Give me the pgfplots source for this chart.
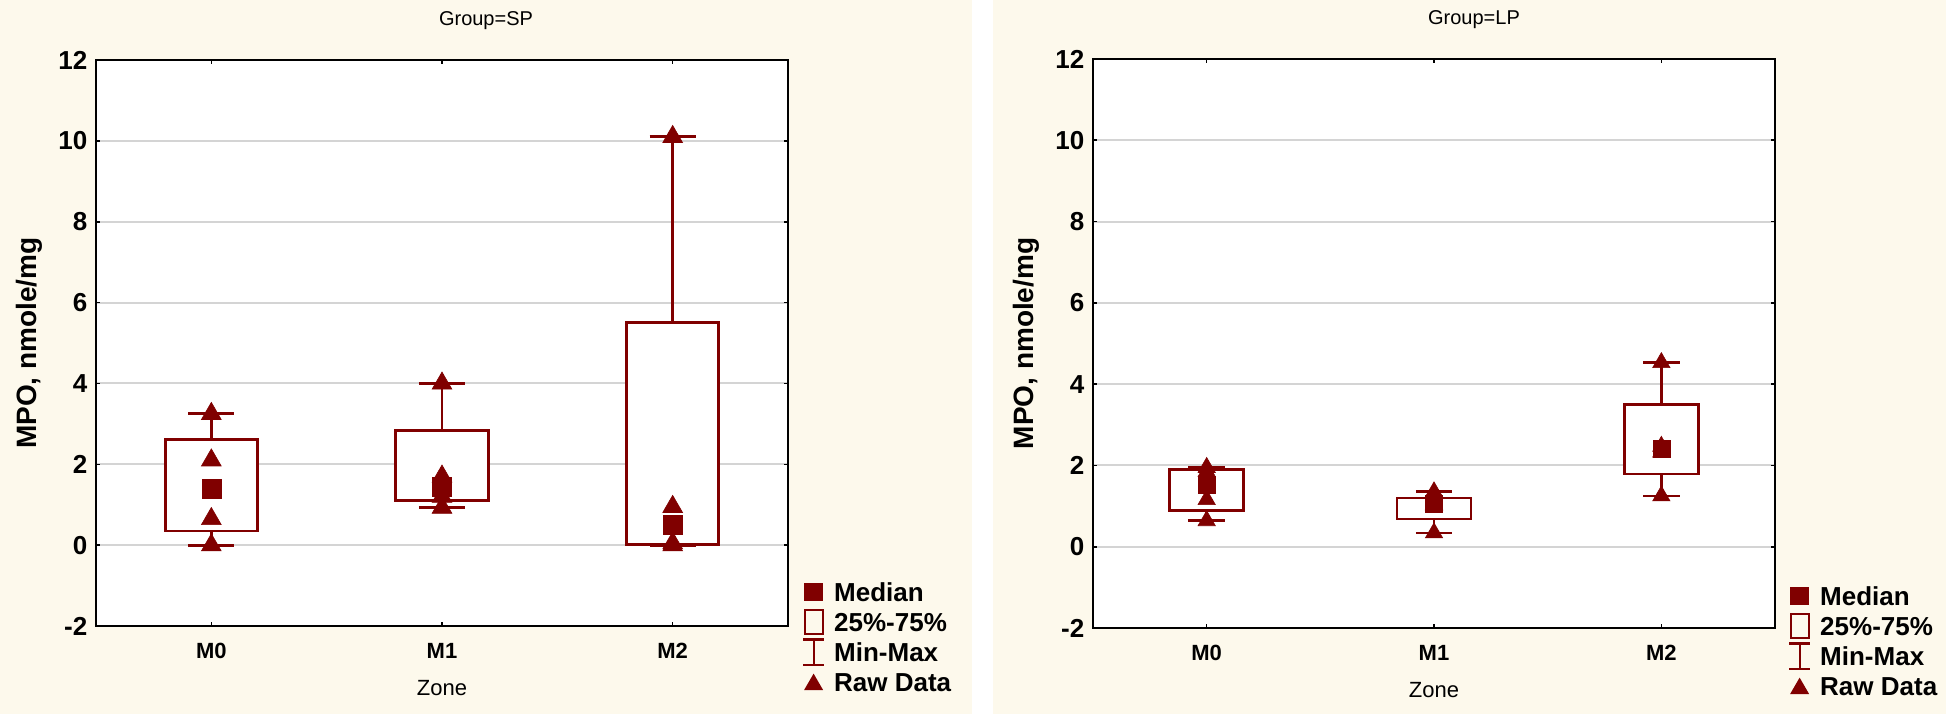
\documentclass[border=0pt]{standalone}
\usepackage{fontspec}
\setmainfont{Liberation Sans}
\usepackage{pgfplots}
\pgfplotsset{compat=1.18}
\usepgfplotslibrary{statistics}
\definecolor{dred}{RGB}{128,0,0}
\definecolor{cream}{RGB}{253,249,236}
\definecolor{gridgray}{RGB}{212,212,212}
\pgfplotsset{
  panel/.style={
    scale only axis,
    anchor=south west,
    axis background/.style={fill=white},
    axis line style={black, line width=1.2pt},
    xmin=-0.5, xmax=2.5, ymin=-2, ymax=12,
    xtick={0,1,2}, xticklabels={M0,M1,M2},
    ytick={-2,0,2,4,6,8,10,12},
    yticklabels={-2,0,2,4,6,8,10,12},
    tick align=inside, tick pos=both,
    major tick length=2pt,
    tick style={black, line width=0.8pt},
    ymajorgrids, major grid style={gridgray, line width=1pt},
    xticklabel style={font=\fontsize{11}{13}\selectfont\bfseries, yshift=-5pt},
    yticklabel style={font=\fontsize{13}{15}\selectfont\bfseries, xshift=-0.8pt},
    every axis y label/.style={at={(axis description cs:0,0.5)}, xshift=-33.5pt, rotate=90, anchor=center, font=\fontsize{14}{16}\selectfont\bfseries},
    every axis x label/.style={at={(axis description cs:0.5,0)}, yshift=-31pt, anchor=center, font=\fontsize{11}{13}\selectfont},
    ylabel={MPO, nmole/mg},
    xlabel={Zone},
    boxplot/draw direction=y,
    boxplot/draw/median/.code={},
    legend cell align=left,
    legend style={draw=none, fill=none, inner sep=0pt, outer sep=0pt,
      at={(axis description cs:1,0)}, anchor=north west,
      row sep=0pt,
      font=\fontsize{13}{15}\selectfont\bfseries,
      nodes={inner xsep=4.5pt, inner ysep=0pt, text height=9pt, text depth=0pt}},
  },
  boxs/.style={draw=dred, fill=white, line width=1.4pt, forget plot},
}
\newcommand{\legendimages}{%
  \addlegendimage{legend image code/.code={\fill[dred, draw=none] (0.5pt,-4.6pt) rectangle (9.9pt,4.6pt); \path[draw=none, fill=none] (0pt,-7.5pt) rectangle (10.5pt,7.5pt);}}
  \addlegendentry{Median}
  \addlegendimage{legend image code/.code={\draw[dred, fill=none, line width=1pt] (0.7pt,-6.2pt) rectangle (9.8pt,6.2pt); \path[draw=none, fill=none] (0pt,-7.5pt) rectangle (10.5pt,7.5pt);}}
  \addlegendentry{25\%-75\%}
  \addlegendimage{legend image code/.code={\draw[dred, fill=none, line width=1.1pt] (0pt,6.3pt) -- (10.5pt,6.3pt) (5.25pt,6.3pt) -- (5.25pt,-6.3pt) (0pt,-6.3pt) -- (10.5pt,-6.3pt); \path[draw=none, fill=none] (0pt,-7.5pt) rectangle (10.5pt,7.5pt);}}
  \addlegendentry{Min-Max}
  \addlegendimage{legend image code/.code={\fill[dred, draw=none] (0.5pt,-4pt) -- (10pt,-4pt) -- (5.25pt,4.2pt) -- cycle; \path[draw=none, fill=none] (0pt,-7.5pt) rectangle (10.5pt,7.5pt);}}
  \addlegendentry{Raw Data}
}
\begin{document}
\begin{tikzpicture}
\fill[white] (0,0) rectangle (973pt,-357pt);
\fill[cream] (0,0) rectangle (486pt,-357pt);
\fill[cream] (496.5pt,0) rectangle (973pt,-357pt);

% ---------------- Group = SP ----------------
\begin{axis}[panel, at={(48pt,-313pt)}, width=346pt, height=283pt,
  title={Group=SP},
  title style={at={(axis description cs:0.5,1)}, anchor=base, yshift=11.5pt, xshift=22pt, font=\fontsize{10}{12}\selectfont},
  legend style={xshift=7pt, yshift=24.5pt}]
\addplot[boxs, boxplot prepared={draw position=0, lower whisker=0, lower quartile=0.35, median=1.4, upper quartile=2.62, upper whisker=3.25, box extend=0.4, whisker extend=0.2}] coordinates {};
\addplot[boxs, boxplot prepared={draw position=1, lower whisker=0.93, lower quartile=1.1, median=1.45, upper quartile=2.83, upper whisker=4.0, box extend=0.4, whisker extend=0.2}] coordinates {};
\addplot[boxs, boxplot prepared={draw position=2, lower whisker=0, lower quartile=0.02, median=0.5, upper quartile=5.5, upper whisker=10.1, box extend=0.4, whisker extend=0.2}] coordinates {};
\addplot[forget plot, only marks, mark=triangle*, mark size=5.7pt, color=dred, mark options={line width=0.3pt}] coordinates {
 (0,0) (0,0.65) (0,2.1) (0,3.25)
 (1,0.93) (1,1.2) (1,1.7) (1,4.0)
 (2,0) (2,0.05) (2,0.95) (2,10.1)};
\addplot[forget plot, only marks, mark=square*, mark size=4.75pt, color=dred, mark options={line width=0.3pt}] coordinates {
 (0,1.4) (1,1.45) (2,0.5)};
\legendimages
\end{axis}

% ---------------- Group = LP ----------------
\begin{axis}[panel, at={(546.5pt,-314pt)}, width=341pt, height=284.5pt,
  title={Group=LP},
  title style={at={(axis description cs:0.5,1)}, anchor=base, yshift=11.5pt, xshift=20pt, font=\fontsize{10}{12}\selectfont},
  legend style={xshift=6.5pt, yshift=23.5pt}]
\addplot[boxs, boxplot prepared={draw position=0, lower whisker=0.64, lower quartile=0.90, median=1.52, upper quartile=1.90, upper whisker=1.95, box extend=0.325, whisker extend=0.16}] coordinates {};
\addplot[boxs, boxplot prepared={draw position=1, lower whisker=0.34, lower quartile=0.68, median=1.05, upper quartile=1.20, upper whisker=1.35, box extend=0.325, whisker extend=0.16}] coordinates {};
\addplot[boxs, boxplot prepared={draw position=2, lower whisker=1.25, lower quartile=1.79, median=2.40, upper quartile=3.50, upper whisker=4.53, box extend=0.325, whisker extend=0.16}] coordinates {};
\addplot[forget plot, only marks, mark=triangle*, mark size=5pt, color=dred, mark options={line width=0.3pt}] coordinates {
 (0,0.64) (0,1.16) (0,1.85) (0,1.95)
 (1,0.34) (1,1.02) (1,1.05) (1,1.35)
 (2,1.25) (2,2.33) (2,2.47) (2,4.53)};
\addplot[forget plot, only marks, mark=square*, mark size=4.25pt, color=dred, mark options={line width=0.3pt}] coordinates {
 (0,1.52) (1,1.05) (2,2.40)};
\legendimages
\end{axis}
\pgfresetboundingbox
\path (0,0) rectangle (973pt,-357pt);
\end{tikzpicture}
\end{document}
